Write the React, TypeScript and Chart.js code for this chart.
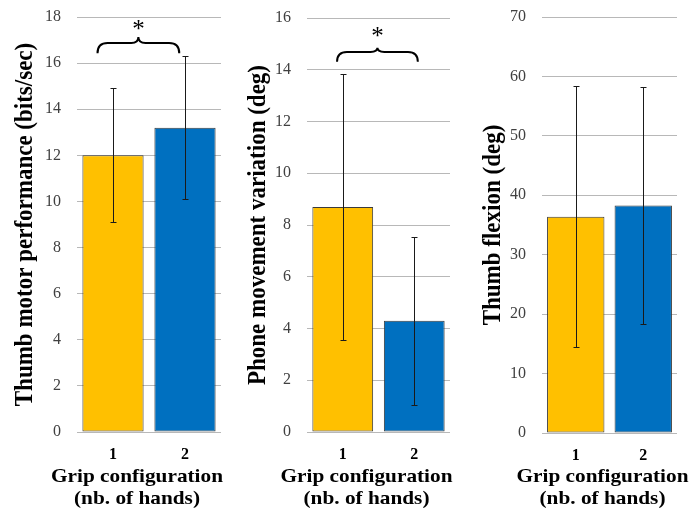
import React, { useEffect, useRef } from "react";
import { Chart, registerables } from "chart.js";

Chart.register(...registerables);

const categories = ["1", "2"];
const motorMeans = [12.0, 13.2];
const motorErrors = [2.9, 3.1];
const phoneMeans = [8.7, 4.3];
const phoneErrors = [5.15, 3.25];
const flexionMeans = [36.4, 38.3];
const flexionErrors = [22.0, 20.0];

const barColors = ["#FFC000", "#0070C0"];
const SERIF = "'Liberation Serif', 'Times New Roman', serif";
const HSTRETCH = 1.12;

const errorBarPlugin = {
  id: "errorBars",
  afterDatasetsDraw(chart: any, _args: any, opts: any) {
    const { ctx } = chart;
    const meta = chart.getDatasetMeta(0);
    const y = chart.scales.y;
    const errs: number[] = opts.errors || [];
    ctx.save();
    ctx.strokeStyle = "#1a1a1a";
    ctx.lineWidth = 1;
    meta.data.forEach((bar: any, i: number) => {
      const v = chart.data.datasets[0].data[i] as number;
      const x = Math.round(bar.x) + 0.5;
      const top = Math.round(y.getPixelForValue(v + errs[i])) + 0.5;
      const bot = Math.round(y.getPixelForValue(v - errs[i])) + 0.5;
      ctx.beginPath();
      ctx.moveTo(x, top);
      ctx.lineTo(x, bot);
      ctx.moveTo(x - 3, top);
      ctx.lineTo(x + 3, top);
      ctx.moveTo(x - 3, bot);
      ctx.lineTo(x + 3, bot);
      ctx.stroke();
    });
    ctx.restore();
  },
};

const bracePlugin = {
  id: "sigBrace",
  afterDraw(chart: any, _args: any, opts: any) {
    if (!opts || !opts.show) return;
    const { ctx } = chart;
    const xs = chart.scales.x;
    const ys = chart.scales.y;
    const x0 = xs.getPixelForValue(opts.x0);
    const x1 = xs.getPixelForValue(opts.x1);
    const xm = (x0 + x1) / 2;
    const yEnd = ys.getPixelForValue(opts.yEnd);
    const yLine = ys.getPixelForValue(opts.yLine);
    const yPeak = ys.getPixelForValue(opts.yPeak);
    const r = yEnd - yLine;
    ctx.save();
    ctx.strokeStyle = "#000";
    ctx.lineWidth = 2;
    ctx.beginPath();
    ctx.moveTo(x0, yEnd);
    ctx.quadraticCurveTo(x0, yLine, x0 + r, yLine);
    ctx.lineTo(xm - r * 0.7, yLine);
    ctx.quadraticCurveTo(xm, yLine, xm, yPeak);
    ctx.quadraticCurveTo(xm, yLine, xm + r * 0.7, yLine);
    ctx.lineTo(x1 - r, yLine);
    ctx.quadraticCurveTo(x1, yLine, x1, yEnd);
    ctx.stroke();
    ctx.fillStyle = "#000";
    ctx.font = `25px ${SERIF}`;
    ctx.textAlign = "center";
    ctx.textBaseline = "middle";
    ctx.fillText("*", xm, ys.getPixelForValue(opts.yStar) + 5);
    ctx.restore();
  },
};

// Draw a scale title without width squeeze, shifted and stretched horizontally
// (the reference picture is slightly wider than tall).
function stretchTitle(scale: any, shift: number, centerX: (s: any) => number) {
  if (scale._stretchedTitle) return;
  const orig = scale.drawTitle;
  scale.drawTitle = function (...args: any[]) {
    const ctx = this.ctx;
    const l = this.left;
    const r = this.right;
    const t = this.top;
    const b = this.bottom;
    if (this.isHorizontal()) {
      this.left = l - 80 + shift;
      this.right = r + 80 + shift;
    } else {
      this.top = t - 80;
      this.bottom = b + 80;
    }
    const cx = centerX(this);
    ctx.save();
    ctx.translate(cx, 0);
    ctx.scale(HSTRETCH, 1);
    ctx.translate(-cx, 0);
    orig.apply(this, args);
    ctx.restore();
    this.left = l;
    this.right = r;
    this.top = t;
    this.bottom = b;
  };
  scale._stretchedTitle = true;
}

type PanelProps = {
  left: number;
  width: number;
  means: number[];
  errors: number[];
  yMax: number;
  yStep: number;
  yTitle: string;
  areaLeft: number;
  padRight: number;
  padTop: number;
  areaBottom: number;
  titleCenter: number;
  xTitleShift: number;
  brace?: any;
};

function Panel(p: PanelProps) {
  const ref = useRef<HTMLCanvasElement | null>(null);
  useEffect(() => {
    if (!ref.current) return;
    const yTitleSize = 23;
    const yTitleLH = 1.1;
    const chart = new Chart(ref.current, {
      type: "bar",
      data: {
        labels: categories,
        datasets: [
          {
            data: p.means,
            backgroundColor: barColors,
            borderColor: "#3a3a3a",
            borderWidth: 1,
            borderSkipped: false,
            barPercentage: 0.85,
            categoryPercentage: 1,
          },
        ],
      },
      options: {
        responsive: false,
        animation: false,
        layout: { padding: { left: 0, right: p.padRight, top: p.padTop, bottom: 0 } },
        plugins: {
          legend: { display: false },
          tooltip: { enabled: false },
          errorBars: { errors: p.errors },
          sigBrace: p.brace ? { show: true, ...p.brace } : { show: false },
        } as any,
        scales: {
          x: {
            grid: { display: false },
            border: { display: false },
            ticks: {
              color: "#000",
              font: { family: SERIF, size: 16, weight: "bold" },
              padding: 5,
            },
            title: {
              display: true,
              text: ["Grip configuration", "(nb. of hands)"],
              color: "#000",
              font: { family: SERIF, size: 19, weight: "bold", lineHeight: 1.16 },
              padding: { top: 0, bottom: -2 },
            },
            afterFit(scale: any) {
              scale.height = 508 - p.areaBottom;
              scale.paddingLeft = 0;
              scale.paddingRight = 0;
              stretchTitle(scale, p.xTitleShift, (s: any) => (s.left + s.right) / 2);
            },
          },
          y: {
            min: 0,
            max: p.yMax,
            grid: { color: "#b8b8b8", drawTicks: false, lineWidth: 1 },
            border: { display: false },
            ticks: {
              stepSize: p.yStep,
              color: "#404040",
              font: { family: SERIF, size: 16 },
              padding: 16,
            },
            title: {
              display: true,
              text: p.yTitle,
              color: "#000",
              font: { family: SERIF, size: yTitleSize, weight: "bold", lineHeight: yTitleLH },
              padding: { top: p.titleCenter - (yTitleSize * yTitleLH) / 2, bottom: 0 },
            },
            afterFit(scale: any) {
              scale.width = p.areaLeft;
              scale.paddingTop = 0;
              scale.paddingBottom = 0;
              stretchTitle(scale, 0, (s: any) => s.left + p.titleCenter);
            },
          },
        } as any,
      },
      plugins: [errorBarPlugin, bracePlugin],
    });
    return () => chart.destroy();
  }, []);
  return (
    <div style={{ position: "absolute", left: p.left, top: 0, width: p.width, height: 508 }}>
      <canvas ref={ref} width={p.width} height={508} style={{ width: p.width, height: 508, display: "block" }} />
    </div>
  );
}

export default function App() {
  return (
    <div style={{ position: "absolute", left: 0, top: 0, width: 697, height: 508, background: "#fff" }}>
      <Panel
        left={0}
        width={232}
        means={motorMeans}
        errors={motorErrors}
        yMax={18}
        yStep={2}
        yTitle="Thumb motor performance (bits/sec)"
        areaLeft={77}
        padRight={11}
        padTop={17}
        areaBottom={432}
        titleCenter={25}
        xTitleShift={-12}
        brace={{ x0: -0.215, x1: 0.92, yEnd: 16.43, yLine: 16.87, yPeak: 17.13, yStar: 17.65 }}
      />
      <Panel
        left={232}
        width={232}
        means={phoneMeans}
        errors={phoneErrors}
        yMax={16}
        yStep={2}
        yTitle="Phone movement variation (deg)"
        areaLeft={75}
        padRight={14}
        padTop={18}
        areaBottom={432}
        titleCenter={26}
        xTitleShift={-12}
        brace={{ x0: -0.08, x1: 1.05, yEnd: 14.31, yLine: 14.69, yPeak: 14.85, yStar: 15.43 }}
      />
      <Panel
        left={464}
        width={233}
        means={flexionMeans}
        errors={flexionErrors}
        yMax={70}
        yStep={10}
        yTitle="Thumb flexion (deg)"
        areaLeft={78}
        padRight={20}
        padTop={17}
        areaBottom={433}
        titleCenter={29}
        xTitleShift={-7}
      />
    </div>
  );
}
